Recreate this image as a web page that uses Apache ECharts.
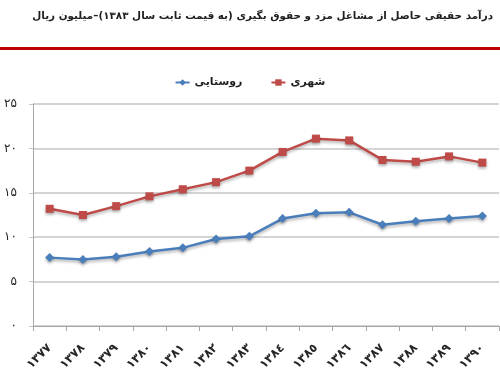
<!DOCTYPE html>
<html>
<head>
<meta charset="utf-8">
<script src="https://cdn.jsdelivr.net/npm/echarts@6/dist/echarts.min.js"></script>
<style>
  html, body { margin: 0; padding: 0; background: #fff; }
  #main { width: 500px; height: 376px; direction: rtl; }
</style>
</head>
<body>
<div id="main"></div>
<script>
// سال‌ها (محور افقی)
var years = ['۱۳۷۷', '۱۳۷۸', '۱۳۷۹', '۱۳۸۰', '۱۳۸۱', '۱۳۸۲', '۱۳۸۳',
             '۱۳۸٤', '۱۳۸٥', '۱۳۸٦', '۱۳۸۷', '۱۳۸۸', '۱۳۸۹', '۱۳۹۰'];
// شهری
var urban = [13.2, 12.5, 13.5, 14.6, 15.4, 16.2, 17.5, 19.6, 21.1, 20.9, 18.7, 18.5, 19.1, 18.4];
// روستایی
var rural = [7.7, 7.5, 7.8, 8.4, 8.8, 9.8, 10.1, 12.1, 12.7, 12.8, 11.4, 11.8, 12.1, 12.4];
// برچسب‌های محور عمودی
var yTicks = ['۰', '۵', '۱۰', '۱۵', '۲۰', '۲۵'];

var titleText = 'درآمد حقیقی حاصل از مشاغل مزد و حقوق بگیری (به قیمت ثابت سال ۱۳۸۳)–میلیون ریال';
var font = 'DejaVu Sans';

var myChart = echarts.init(document.getElementById('main'));
myChart.setOption({
    animation: false,
    textStyle: { fontFamily: font },
    graphic: [
        {
            type: 'text',
            right: 7,
            top: 11,
            style: {
                text: titleText,
                font: 'bold 10.4px "DejaVu Sans"',
                fill: '#1f1f1f'
            }
        },
        {
            type: 'rect',
            left: 0,
            top: 47,
            shape: { width: 500, height: 3 },
            style: { fill: '#c00000' }
        }
    ],
    legend: {
        left: 'center',
        top: 72,
        itemWidth: 14,
        itemHeight: 8,
        itemGap: 28,
        data: ['روستایی', 'شهری'],
        textStyle: { fontFamily: font, fontSize: 11, fontWeight: 'bold', color: '#1f1f1f' }
    },
    grid: { left: 33, right: 1, top: 104, bottom: 50, containLabel: false },
    xAxis: {
        type: 'category',
        data: years,
        boundaryGap: true,
        axisLine: { lineStyle: { color: '#a6a6a6' } },
        axisTick: { show: true, length: 5, lineStyle: { color: '#a6a6a6' } },
        axisLabel: {
            rotate: 45,
            margin: 20,
            interval: 0,
            fontFamily: font,
            fontSize: 12,
            fontWeight: 'bold',
            color: '#262626'
        }
    },
    yAxis: {
        type: 'value',
        min: 0,
        max: 25,
        interval: 5,
        axisLine: { show: true, lineStyle: { color: '#a6a6a6' } },
        axisTick: { show: true, length: 4, lineStyle: { color: '#c6c6c6' } },
        splitLine: { lineStyle: { color: '#c6c6c6', width: 1.5 } },
        axisLabel: {
            margin: 16,
            fontFamily: font,
            fontSize: 12,
            color: '#262626',
            formatter: function (v) { return yTicks[Math.round(v / 5)]; }
        }
    },
    series: [
        {
            name: 'شهری',
            type: 'line',
            data: urban,
            symbol: 'rect',
            symbolSize: 8,
            color: '#be4b48',
            lineStyle: {
                width: 2.5,
                shadowColor: 'rgba(0,0,0,0.3)',
                shadowBlur: 3,
                shadowOffsetY: 2
            },
            itemStyle: { color: '#be4b48', shadowColor: 'rgba(0,0,0,0.3)', shadowBlur: 3, shadowOffsetY: 2 }
        },
        {
            name: 'روستایی',
            type: 'line',
            data: rural,
            symbol: 'diamond',
            symbolSize: 9,
            color: '#4a7ebb',
            lineStyle: {
                width: 2.5,
                shadowColor: 'rgba(0,0,0,0.3)',
                shadowBlur: 3,
                shadowOffsetY: 2
            },
            itemStyle: { color: '#4a7ebb', shadowColor: 'rgba(0,0,0,0.3)', shadowBlur: 3, shadowOffsetY: 2 }
        }
    ]
});
</script>
</body>
</html>
